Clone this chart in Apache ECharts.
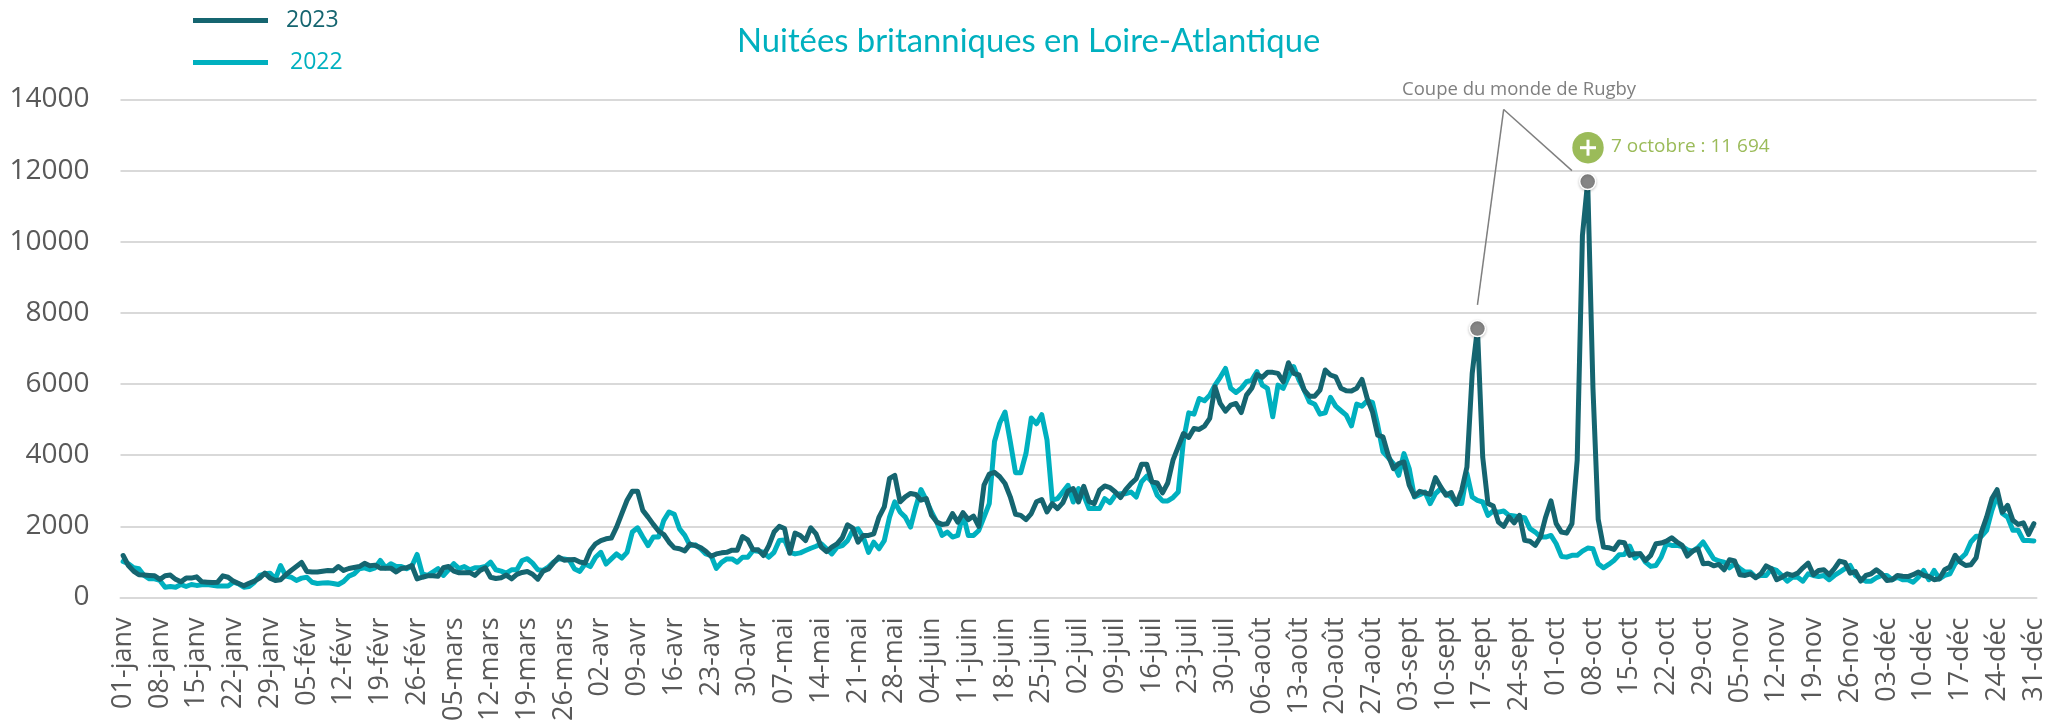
<!DOCTYPE html>
<html lang="fr">
<head>
<meta charset="utf-8">
<title>Nuitées britanniques en Loire-Atlantique</title>
<script src="https://cdn.jsdelivr.net/npm/echarts@6/dist/echarts.min.js"></script>
<style>html,body{margin:0;padding:0;background:#fff}#c{width:2060px;height:725px}</style>
</head>
<body>
<div id="c"></div>
<script>
const weekLabels = ['01-janv','08-janv','15-janv','22-janv','29-janv','05-févr','12-févr','19-févr','26-févr','05-mars','12-mars','19-mars','26-mars','02-avr','09-avr','16-avr','23-avr','30-avr','07-mai','14-mai','21-mai','28-mai','04-juin','11-juin','18-juin','25-juin','02-juil','09-juil','16-juil','23-juil','30-juil','06-août','13-août','20-août','27-août','03-sept','10-sept','17-sept','24-sept','01-oct','08-oct','15-oct','22-oct','29-oct','05-nov','12-nov','19-nov','26-nov','03-déc','10-déc','17-déc','24-déc','31-déc'];

const values2023 = [
1180,900,740,640,630,620,610,
510,610,630,510,440,545,545,
580,440,430,420,430,610,570,
460,395,330,400,460,545,685,
545,480,500,640,760,870,985,
730,715,715,740,760,750,870,
760,815,845,870,960,890,910,
825,825,825,720,815,835,900,
525,570,610,610,600,835,870,
740,695,695,705,620,760,835,
570,535,555,630,525,650,705,
730,655,515,740,800,975,1135,
1050,1060,1070,1000,970,1320,1510,
1600,1650,1670,1980,2360,2735,2990,
2990,2450,2260,2055,1870,1770,1555,
1395,1370,1310,1500,1460,1405,1300,
1160,1225,1255,1270,1330,1330,1715,
1620,1340,1340,1180,1460,1840,2000,
1940,1245,1810,1745,1600,1960,1790,
1415,1290,1415,1510,1680,2045,1950,
1555,1745,1745,1790,2260,2545,3350,
3430,2690,2830,2925,2895,2735,2780,
2310,2120,2055,2075,2360,2120,2385,
2190,2290,2000,3160,3470,3520,3395,
3205,2830,2340,2310,2190,2360,2690,
2755,2405,2640,2500,2660,2995,3060,
2685,3125,2700,2640,3015,3135,3090,
2965,2810,3030,3200,3340,3745,3745,
3250,3220,2940,3220,3860,4235,4610,
4500,4750,4725,4815,5035,5925,5455,
5240,5410,5455,5200,5690,5880,6270,
6190,6330,6330,6300,6065,6600,6300,
6255,5830,5660,5660,5830,6395,6255,
6205,5880,5810,5805,5880,6130,5595,
5220,4565,4515,4000,3625,3765,3810,
3155,2845,2985,2940,2900,3370,3110,
2875,2950,2620,3015,3670,6300,7560,
3950,2640,2570,2120,2000,2265,2100,
2310,1605,1580,1465,1700,2265,2715,
2075,1840,1810,2075,3860,10180,11694,
5900,2200,1420,1400,1350,1560,1540,
1185,1230,1230,1040,1185,1510,1530,
1585,1680,1560,1465,1165,1305,1370,
950,965,890,930,780,1060,1025,
640,620,665,555,665,890,810,
500,570,665,620,685,835,965,
640,760,780,640,810,1025,985,
685,730,460,620,665,780,665,
480,500,620,600,590,640,715,
620,590,500,525,780,855,1185,
995,900,920,1115,1840,2260,2780,
3030,2400,2590,2170,2055,2100,1775,
2075];

const values2022 = [
1015,950,835,810,620,525,525,
480,290,310,290,365,310,365,
340,355,365,345,320,320,320,
430,385,290,310,430,620,665,
685,525,900,600,570,480,545,
570,430,395,405,415,395,365,
450,600,665,810,835,780,835,
1040,835,950,870,870,810,880,
1210,665,620,715,810,620,780,
950,810,870,780,835,835,870,
995,780,740,685,780,780,1040,
1090,965,780,760,855,995,1090,
1085,1055,800,735,940,870,1130,
1270,940,1085,1225,1110,1270,1840,
1960,1700,1460,1700,1700,2170,2405,
2340,1930,1745,1460,1480,1370,1225,
1180,820,990,1085,1085,990,1130,
1130,1320,1300,1270,1130,1270,1600,
1620,1270,1225,1255,1320,1385,1440,
1510,1370,1225,1415,1460,1600,1885,
1930,1700,1270,1555,1370,1600,2260,
2690,2405,2260,1980,2545,3035,2735,
2405,2120,1745,1840,1700,1745,2360,
1745,1745,1885,2260,2640,4385,4905,
5215,4385,3510,3510,4055,5045,4885,
5140,4430,2735,2780,2965,3155,2685,
3060,2875,2500,2500,2500,2780,2665,
2875,2920,2920,2965,2825,3250,3410,
3250,2875,2715,2715,2810,2965,4420,
5190,5155,5595,5530,5690,5970,6190,
6440,5880,5765,5880,6065,6110,6350,
5970,5880,5080,5970,5880,6205,6490,
6110,5830,5500,5435,5155,5190,5625,
5380,5250,5125,4825,5435,5380,5530,
5485,4845,4095,3935,3765,3435,4045,
3625,2825,2890,2965,2640,2920,3060,
2920,2825,2640,2640,3485,2825,2730,
2685,2310,2430,2400,2430,2310,2290,
2265,2245,1935,1840,1700,1700,1745,
1510,1155,1135,1185,1185,1305,1390,
1370,950,835,930,1040,1200,1210,
1445,1110,1230,995,875,900,1135,
1510,1465,1465,1435,1340,1305,1400,
1560,1325,1090,1025,995,835,950,
810,715,715,575,620,620,810,
760,620,460,570,570,460,665,
620,590,620,500,620,715,810,
900,620,525,460,460,555,620,
620,500,570,500,500,430,570,
760,500,760,525,620,665,950,
1090,1230,1560,1720,1720,1890,2450,
2870,2360,2260,1890,1890,1605,1600,
1590];

const categories = weekLabels.flatMap((l, i) => i < weekLabels.length - 1 ? [l, '', '', '', '', '', ''] : [l]);
const rugbyPeaks = [258, 279];
const FONT = '"Open Sans", sans-serif';
const COL23 = '#156570', COL22 = '#00B0BF', GRID = '#D9D9D9', GREY = '#858585', GREEN = '#9BBB59';

const chart = echarts.init(document.getElementById('c'), null, {renderer: 'canvas'});
chart.setOption({
  animation: false,
  backgroundColor: '#fff',
  title: {
    text: 'Nuitées britanniques en Loire-Atlantique',
    left: 732, top: 20,
    textStyle: {color: COL22, fontFamily: 'Lato, sans-serif', fontWeight: 'normal', fontSize: 32.8}
  },
  legend: [
    {data: ['2023'], left: 188, top: 4, itemWidth: 75, itemHeight: 5, icon: 'rect',
     textStyle: {color: COL23, fontFamily: FONT, fontSize: 23, padding: [0, 0, 0, 13]}},
    {data: ['2022'], left: 188, top: 46, itemWidth: 75, itemHeight: 5, icon: 'rect',
     textStyle: {color: COL22, fontFamily: FONT, fontSize: 23, padding: [5, 0, 0, 17]}}
  ],
  grid: {left: 120.5, right: 23.5, top: 99.5, bottom: 127.5, containLabel: false},
  xAxis: {
    type: 'category', data: categories, boundaryGap: true,
    axisLine: {show: true, lineStyle: {color: GRID, width: 2}},
    axisTick: {show: false},
    axisLabel: {interval: 6, rotate: 90, margin: 20, color: '#595959', fontFamily: FONT, fontSize: 27},
    splitLine: {show: false}
  },
  yAxis: {
    type: 'value', min: 0, max: 14000, interval: 2000,
    axisLine: {show: false}, axisTick: {show: false},
    axisLabel: {margin: 31, color: '#595959', fontFamily: FONT, fontSize: 28, formatter: v => String(v)},
    splitLine: {lineStyle: {color: GRID, width: 2}}
  },
  series: [
    {name: '2022', type: 'line', data: values2022, showSymbol: false, symbol: 'none', z: 2,
     itemStyle: {color: COL22},
     lineStyle: {color: COL22, width: 5, join: 'round', cap: 'round'}},
    {name: '2023', type: 'line', data: values2023, showSymbol: false, symbol: 'none', z: 3,
     itemStyle: {color: COL23},
     lineStyle: {color: COL23, width: 5, join: 'round', cap: 'round'},
     markLine: {
       silent: true, symbol: 'none', animation: false, z: 4, label: {show: false},
       lineStyle: {color: '#7F7F7F', width: 1.5, type: 'solid'},
       data: [
         [{coord: [263.1, 13720]}, {coord: [258, 8225]}],
         [{coord: [263.1, 13720]}, {coord: [276.2, 12000]}]
       ]
     },
     markPoint: {
       silent: true, symbol: 'circle', symbolSize: 16, animation: false, z: 10,
       label: {show: false},
       itemStyle: {color: GREY, borderColor: '#fff', borderWidth: 1.5, shadowColor: 'rgba(0,0,0,0.2)', shadowBlur: 3, shadowOffsetY: 1},
       data: rugbyPeaks.map(i => ({coord: [i, values2023[i]]}))
     }}
  ],
  graphic: [
    {type: 'text', left: 1402, top: 80, z: 10,
     style: {text: 'Coupe du monde de Rugby', fill: '#7F7F7F', font: '18.5px ' + FONT}},
    {type: 'circle', shape: {cx: 1588, cy: 147.7, r: 15.7}, z: 10, style: {fill: GREEN}},
    {type: 'rect', shape: {x: 1580, y: 146.2, width: 16, height: 3}, z: 11, style: {fill: '#fff'}},
    {type: 'rect', shape: {x: 1586.5, y: 139.7, width: 3, height: 16}, z: 11, style: {fill: '#fff'}},
    {type: 'text', left: 1611, top: 137, z: 10,
     style: {text: '7 octobre : 11 694', fill: GREEN, font: '19px ' + FONT}}
  ]
});
</script>
</body>
</html>
